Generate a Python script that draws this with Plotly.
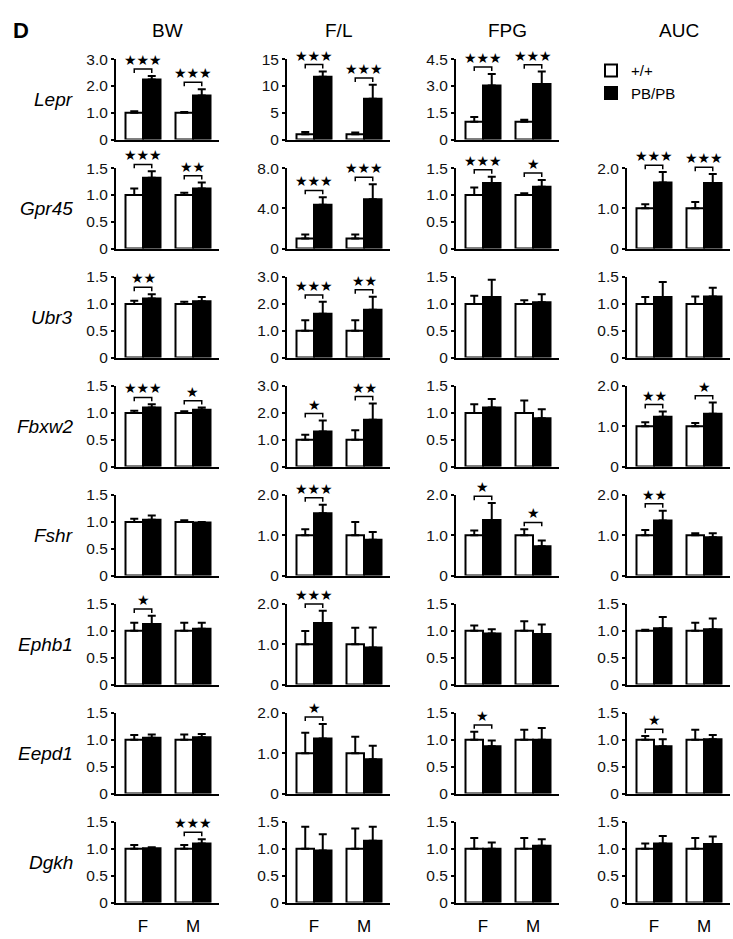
import plotly.graph_objects as go

# ---------------- data ----------------
genes = ["Lepr", "Gpr45", "Ubr3", "Fbxw2", "Fshr", "Ephb1", "Eepd1", "Dgkh"]
measures = ["BW", "F/L", "FPG", "AUC"]
sexes = ["F", "M"]
legend_names = ["+/+", "PB/PB"]

# +/+ means are normalised to 1.0; values given as [F, M]
wt_mean = [1.0, 1.0]

# ---- BW ----
bw_wt_top = [[1.06, 1.03], [1.12, 1.04], [1.06, 1.04], [1.04, 1.03], [1.06, 1.03], [1.15, 1.15], [1.09, 1.10], [1.07, 1.07]]
bw_pb = [[2.24, 1.64], [1.32, 1.12], [1.10, 1.05], [1.10, 1.06], [1.04, 0.99], [1.13, 1.04], [1.04, 1.05], [1.01, 1.10]]
bw_pb_top = [[2.37, 1.88], [1.44, 1.23], [1.18, 1.13], [1.16, 1.10], [1.12, 1.00], [1.28, 1.15], [1.10, 1.11], [1.03, 1.18]]
bw_stars = [["***", "***"], ["***", "**"], ["**", ""], ["***", "*"], ["", ""], ["*", ""], ["", ""], ["", "***"]]
bw_ticks = [["0", "1.0", "2.0", "3.0"]] + [["0", "0.5", "1.0", "1.5"]] * 7

# ---- F/L ----
fl_wt_top = [[1.4, 1.3], [1.4, 1.4], [1.39, 1.39], [1.19, 1.35], [1.15, 1.33], [1.33, 1.41], [1.51, 1.41], [1.41, 1.38]]
fl_pb = [[11.7, 7.6], [4.35, 4.9], [1.63, 1.78], [1.31, 1.74], [1.55, 0.89], [1.53, 0.92], [1.37, 0.85], [0.97, 1.15]]
fl_pb_top = [[12.7, 10.2], [5.1, 6.4], [2.08, 2.27], [1.72, 2.35], [1.76, 1.08], [1.83, 1.42], [1.73, 1.19], [1.27, 1.41]]
fl_stars = [["***", "***"], ["***", "***"], ["***", "**"], ["*", "**"], ["***", ""], ["***", ""], ["*", ""], ["", ""]]
fl_ticks = [["0", "5", "10", "15"], ["0", "4.0", "8.0"], ["0", "1.0", "2.0", "3.0"], ["0", "1.0", "2.0", "3.0"],
            ["0", "1.0", "2.0"], ["0", "1.0", "2.0"], ["0", "1.0", "2.0"], ["0", "0.5", "1.0", "1.5"]]

# ---- FPG ----
fpg_wt_top = [[1.26, 1.11], [1.14, 1.03], [1.15, 1.07], [1.16, 1.23], [1.12, 1.15], [1.10, 1.18], [1.15, 1.19], [1.20, 1.20]]
fpg_pb = [[3.02, 3.11], [1.22, 1.15], [1.13, 1.03], [1.10, 0.90], [1.38, 0.73], [0.95, 0.94], [0.88, 1.00], [1.00, 1.06]]
fpg_pb_top = [[3.67, 3.80], [1.34, 1.28], [1.45, 1.18], [1.26, 1.07], [1.80, 0.87], [1.03, 1.12], [0.99, 1.22], [1.12, 1.18]]
fpg_stars = [["***", "***"], ["***", "*"], ["", ""], ["", ""], ["*", "*"], ["", ""], ["*", ""], ["", ""]]
fpg_ticks = [["0", "1.5", "3.0", "4.5"], ["0", "0.5", "1.0", "1.5"], ["0", "0.5", "1.0", "1.5"], ["0", "0.5", "1.0", "1.5"],
             ["0", "1.0", "2.0"], ["0", "0.5", "1.0", "1.5"], ["0", "0.5", "1.0", "1.5"], ["0", "0.5", "1.0", "1.5"]]

# ---- AUC (no Lepr panel) ----
auc_wt_top = [None, [1.10, 1.16], [1.13, 1.14], [1.10, 1.08], [1.13, 1.05], [1.02, 1.15], [1.07, 1.19], [1.10, 1.20]]
auc_pb = [None, [1.64, 1.63], [1.13, 1.14], [1.24, 1.31], [1.37, 0.95], [1.05, 1.03], [0.88, 1.01], [1.10, 1.09]]
auc_pb_top = [None, [1.90, 1.85], [1.41, 1.30], [1.37, 1.59], [1.61, 1.05], [1.26, 1.23], [1.01, 1.09], [1.24, 1.23]]
auc_stars = [None, ["***", "***"], ["", ""], ["**", "*"], ["**", ""], ["", ""], ["*", ""], ["", ""]]
auc_ticks = [None, ["0", "1.0", "2.0"], ["0", "0.5", "1.0", "1.5"], ["0", "1.0", "2.0"],
             ["0", "1.0", "2.0"], ["0", "0.5", "1.0", "1.5"], ["0", "0.5", "1.0", "1.5"], ["0", "0.5", "1.0", "1.5"]]

panels = {
    "BW": (bw_wt_top, bw_pb, bw_pb_top, bw_stars, bw_ticks),
    "F/L": (fl_wt_top, fl_pb, fl_pb_top, fl_stars, fl_ticks),
    "FPG": (fpg_wt_top, fpg_pb, fpg_pb_top, fpg_stars, fpg_ticks),
    "AUC": (auc_wt_top, auc_pb, auc_pb_top, auc_stars, auc_ticks),
}

# ---------------- layout geometry (pixels) ----------------
W, H = 733, 939
FONT = "Liberation Sans, Arial, Helvetica, sans-serif"
col_x0 = [116, 287, 456, 627]
plot_w = 103
row_top0, row_step, plot_h = 51, 111, 82
x_range = [-0.54, 1.52]
bargap = 0.3
bar_off = (1 - bargap) / 4  # bar-centre offset from group centre

fig = go.Figure()
shapes, annotations = [], []
layout_axes = {}
k = 0
for r, gene in enumerate(genes):
    for c, meas in enumerate(measures):
        wt_top_l, pb_l, pb_top_l, stars_l, ticks_l = panels[meas]
        if pb_l[r] is None:
            continue
        k += 1
        xname = "x" if k == 1 else f"x{k}"
        yname = "y" if k == 1 else f"y{k}"
        tick_text = ticks_l[r]
        tick_vals = [float(t) for t in tick_text]
        ymax = tick_vals[-1]
        top = row_top0 + r * row_step
        bot = top + plot_h
        dx0, dx1 = col_x0[c] / W, (col_x0[c] + plot_w) / W
        dy0, dy1 = 1 - bot / H, 1 - top / H

        wt_top = wt_top_l[r]
        pb = pb_l[r]
        pb_top = pb_top_l[r]
        fig.add_trace(go.Bar(
            x=sexes, y=wt_mean, name=legend_names[0], showlegend=(k == 1),
            marker=dict(color="white", line=dict(color="black", width=2)),
            error_y=dict(type="data", symmetric=False,
                         array=[t - v for t, v in zip(wt_top, wt_mean)], arrayminus=[0, 0],
                         color="black", thickness=2, width=4),
            xaxis=xname, yaxis=yname, cliponaxis=False))
        fig.add_trace(go.Bar(
            x=sexes, y=pb, name=legend_names[1], showlegend=(k == 1),
            marker=dict(color="black", line=dict(color="black", width=2)),
            error_y=dict(type="data", symmetric=False,
                         array=[t - v for t, v in zip(pb_top, pb)], arrayminus=[0, 0],
                         color="black", thickness=2, width=4),
            xaxis=xname, yaxis=yname, cliponaxis=False))

        last_row = (r == len(genes) - 1)
        layout_axes["xaxis" if k == 1 else f"xaxis{k}"] = dict(
            domain=[dx0, dx1], range=x_range, type="category", anchor=yname,
            showline=True, linewidth=2, linecolor="black", showgrid=False, zeroline=False,
            ticks="outside" if last_row else "", ticklen=7, tickcolor="rgba(0,0,0,0)",
            showticklabels=last_row, tickfont=dict(size=17, color="black", family=FONT),
            fixedrange=True)
        layout_axes["yaxis" if k == 1 else f"yaxis{k}"] = dict(
            domain=[dy0, dy1], range=[0, ymax], anchor=xname,
            showline=True, linewidth=2, linecolor="black", showgrid=False, zeroline=False,
            ticks="outside", ticklen=3, tickwidth=1.5, tickcolor="black",
            tickvals=tick_vals, ticktext=tick_text,
            tickfont=dict(size=15.5, color="#111", family=FONT), fixedrange=True)

        def px(xv):
            return dx0 + (xv - x_range[0]) / (x_range[1] - x_range[0]) * (dx1 - dx0)

        def py(yv):
            return dy0 + yv / ymax * (dy1 - dy0)

        for i, s in enumerate(stars_l[r]):
            if not s:
                continue
            xw, xb = px(i - bar_off), px(i + bar_off)
            yb = py(max(wt_top[i], pb_top[i])) + 7 / H
            leg = 4 / H
            shapes.append(dict(type="path", xref="paper", yref="paper",
                               path=f"M{xw},{yb - leg} L{xw},{yb} L{xb},{yb} L{xb},{yb - leg}",
                               line=dict(color="black", width=1.5)))
            annotations.append(dict(x=(xw + xb) / 2, y=yb, xref="paper", yref="paper",
                                    text="★" * len(s), showarrow=False, xanchor="center",
                                    yanchor="bottom", borderpad=0,
                                    font=dict(size=14, color="black", family="DejaVu Sans")))

# row labels (genes)
for r, gene in enumerate(genes):
    yc = row_top0 + r * row_step + plot_h / 2
    annotations.append(dict(x=75 / W, y=1 - yc / H, xref="paper", yref="paper",
                            text=f"<i>{gene}</i>", showarrow=False, xanchor="right", yanchor="middle",
                            font=dict(size=19, color="black", family=FONT)))
# column titles
for c, meas in enumerate(measures):
    annotations.append(dict(x=(col_x0[c] + plot_w / 2) / W, y=1 - 22 / H, xref="paper", yref="paper",
                            text=meas, showarrow=False, xanchor="center", yanchor="middle",
                            font=dict(size=19, color="black", family=FONT)))
# panel letter
annotations.append(dict(x=11 / W, y=1 - 22 / H, xref="paper", yref="paper", text="<b>D</b>",
                        showarrow=False, xanchor="left", yanchor="middle",
                        font=dict(size=22, color="black", family=FONT)))

fig.update_layout(
    width=W, height=H, margin=dict(l=0, r=0, t=0, b=0),
    paper_bgcolor="white", plot_bgcolor="white",
    barmode="group", bargap=bargap, bargroupgap=0,
    showlegend=True,
    legend=dict(x=591 / W, y=1 - 46 / H, xanchor="left", yanchor="top",
                bgcolor="rgba(0,0,0,0)", font=dict(size=15, color="black", family=FONT),
                tracegroupgap=0, itemclick=False, itemdoubleclick=False),
    shapes=shapes, annotations=annotations,
    font=dict(family=FONT, color="black"),
    **layout_axes,
)

fig.write_html("out.html", config={"displayModeBar": False},
               post_script="document.body.style.margin='0';document.body.style.overflow='hidden';")
